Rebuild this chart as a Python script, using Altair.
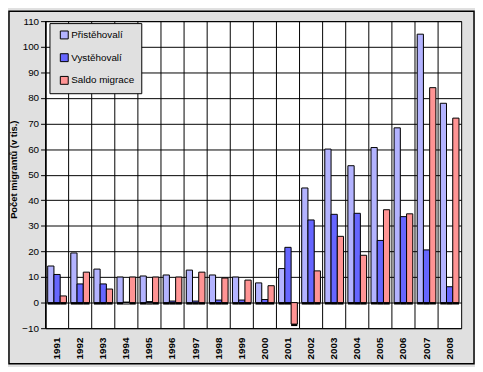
import altair as alt
import pandas as pd

years = [str(y) for y in range(1991, 2009)]
prist = [14.3, 19.4, 13.1, 10.0, 10.4, 10.8, 12.7, 10.8, 10.0, 7.7, 13.3, 44.8, 60.0, 53.5, 60.6, 68.3, 104.9, 77.9]
vyst = [11.0, 7.3, 7.3, 0.2, 0.4, 0.6, 0.6, 1.0, 1.0, 1.2, 21.6, 32.3, 34.5, 34.9, 24.3, 33.6, 20.6, 6.2]
saldo = [2.6, 11.9, 5.3, 10.0, 10.0, 10.0, 11.9, 9.6, 8.8, 6.6, -8.4, 12.4, 25.9, 18.5, 36.3, 34.7, 84.0, 72.1]
series = ["Přistěhovalí", "Vystěhovalí", "Saldo migrace"]
colors = ["#b3b3ff", "#6666ff", "#ff9494"]
y_ticks = list(range(-10, 111, 10))

rows = []
for i, yr in enumerate(years):
    for s, vals in zip(series, [prist, vyst, saldo]):
        rows.append({"rok": yr, "serie": s, "hodnota": vals[i]})
df = pd.DataFrame(rows)
df_years = pd.DataFrame({"rok": years})

W, H = 421, 311
FONT = "Liberation Sans"

xscale = alt.Scale(paddingInner=0, paddingOuter=0)
yscale = alt.Scale(domain=[-10, 110], nice=False, zero=False)
off_scale = alt.Scale(domain=series, paddingInner=0, paddingOuter=0.35)

x_enc = alt.X("rok:N", scale=xscale, sort=years, title=None,
              axis=alt.Axis(labelAngle=270, labelAlign="right", labelBaseline="middle",
                            labelPadding=9, labelFont=FONT, labelFontSize=10,
                            labelFontWeight="bold", labelColor="black",
                            ticks=False, domain=False, grid=False))
y_enc = alt.Y("hodnota:Q", scale=yscale,
              title="Počet migrantů (v tis.)",
              axis=alt.Axis(values=y_ticks, grid=True, gridColor="black", gridOpacity=1,
                            gridWidth=1, tickColor="black", tickSize=5, domainColor="black",
                            labelFont=FONT, labelFontSize=10, labelColor="black",
                            labelPadding=2, titleFont=FONT, titleFontSize=9.5,
                            titleFontWeight="bold", titleColor="black",
                            titleX=-32, titleY=150, titleBaseline="middle",
                            titleAlign="center", titleAngle=270))

frame = alt.Chart(alt.Data(values=[{}])).mark_rect(
    fillOpacity=0, stroke="black", strokeWidth=1.5
).encode(x=alt.value(-37), x2=alt.value(W + 13), y=alt.value(-10), y2=alt.value(H + 36))

vgrid = alt.Chart(df_years).mark_rule(color="black", strokeWidth=1).encode(
    x=alt.X("rok:N", sort=years, bandPosition=0),
    y=alt.value(0), y2=alt.value(H))

shadow = alt.Chart(df).mark_bar(
    color="black", xOffset=2.8, x2Offset=2.8, yOffset=2, y2Offset=2
).encode(
    x=x_enc, y=y_enc,
    xOffset=alt.XOffset("serie:N", scale=off_scale, sort=series),
)

bars = alt.Chart(df).mark_bar(
    stroke="black", strokeWidth=1, xOffset=0.8, x2Offset=0.8
).encode(
    x=x_enc, y=y_enc,
    xOffset=alt.XOffset("serie:N", scale=off_scale, sort=series),
    color=alt.Color("serie:N", sort=series,
                    scale=alt.Scale(domain=series, range=colors),
                    legend=alt.Legend(title=None, orient="none", legendX=4, legendY=2,
                                      fillColor="#e0e0e0", strokeColor="black",
                                      padding=7, symbolType="square", symbolSize=64,
                                      symbolStrokeColor="black", symbolStrokeWidth=1,
                                      symbolOffset=3, labelOffset=2,
                                      labelFont=FONT, labelFontSize=10, labelColor="black",
                                      rowPadding=11)),
)

chart = alt.layer(frame, vgrid, shadow, bars).properties(
    width=W, height=H,
    background="#e0e0e0",
    padding={"left": 38, "top": 11, "right": 14, "bottom": 37},
    autosize=alt.AutoSizeParams(type="none"),
).configure_view(fill="white", stroke="black", strokeWidth=1)

chart.save("out.html", embed_options={"renderer": "svg", "actions": False})
